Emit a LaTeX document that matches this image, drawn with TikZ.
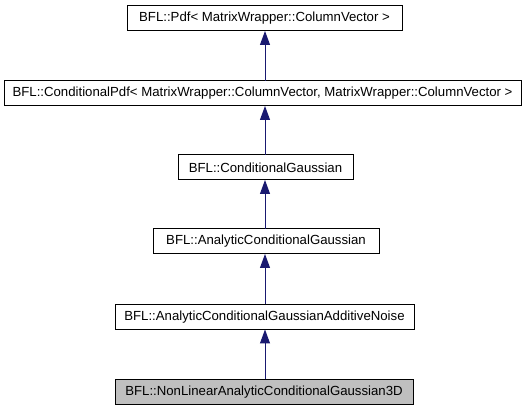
\documentclass[tikz,border=0pt]{standalone}
\usepackage{fontspec}
\setmainfont{Liberation Sans}
\usetikzlibrary{arrows.meta}
\definecolor{edgeblue}{HTML}{191970}
\definecolor{selgray}{HTML}{BFBFBF}
\tikzset{
  cls/.style={draw=black, line width=1pt, fill=white, inner sep=0pt, outer sep=0pt,
    minimum height=25pt, font=\fontsize{13.2}{15}\selectfont},
  sel/.style={cls, fill=selgray},
  inh/.style={draw=edgeblue, line width=1pt, -{Triangle[length=14pt,width=10pt]}}
}
\begin{document}
\begin{tikzpicture}[x=1pt,y=-1pt]
\useasboundingbox (0,0) rectangle (531,411);
\node[cls, minimum width=275pt] (pdf) at (264.5,18.5) {BFL::Pdf< MatrixWrapper::ColumnVector >};
\node[cls, minimum width=517pt] (cpdf) at (262.5,93.5) {BFL::ConditionalPdf< MatrixWrapper::ColumnVector, MatrixWrapper::ColumnVector >};
\node[cls, minimum width=175pt] (cg) at (265.5,167.5) {BFL::ConditionalGaussian};
\node[cls, minimum width=226pt] (acg) at (266,241.5) {BFL::AnalyticConditionalGaussian};
\node[cls, minimum width=299pt] (acgan) at (264.5,317) {BFL::AnalyticConditionalGaussianAdditiveNoise};
\node[sel, minimum width=298pt] (nl) at (264,392) {BFL::NonLinearAnalyticConditionalGaussian3D};
\coordinate (ax) at (265,0);
\draw[inh] (nl.north -| ax) -- (acgan.south -| ax);
\draw[inh] (acgan.north -| ax) -- (acg.south -| ax);
\draw[inh] (acg.north -| ax) -- (cg.south -| ax);
\draw[inh] (cg.north -| ax) -- (cpdf.south -| ax);
\draw[inh] (cpdf.north -| ax) -- (pdf.south -| ax);
\end{tikzpicture}
\end{document}
